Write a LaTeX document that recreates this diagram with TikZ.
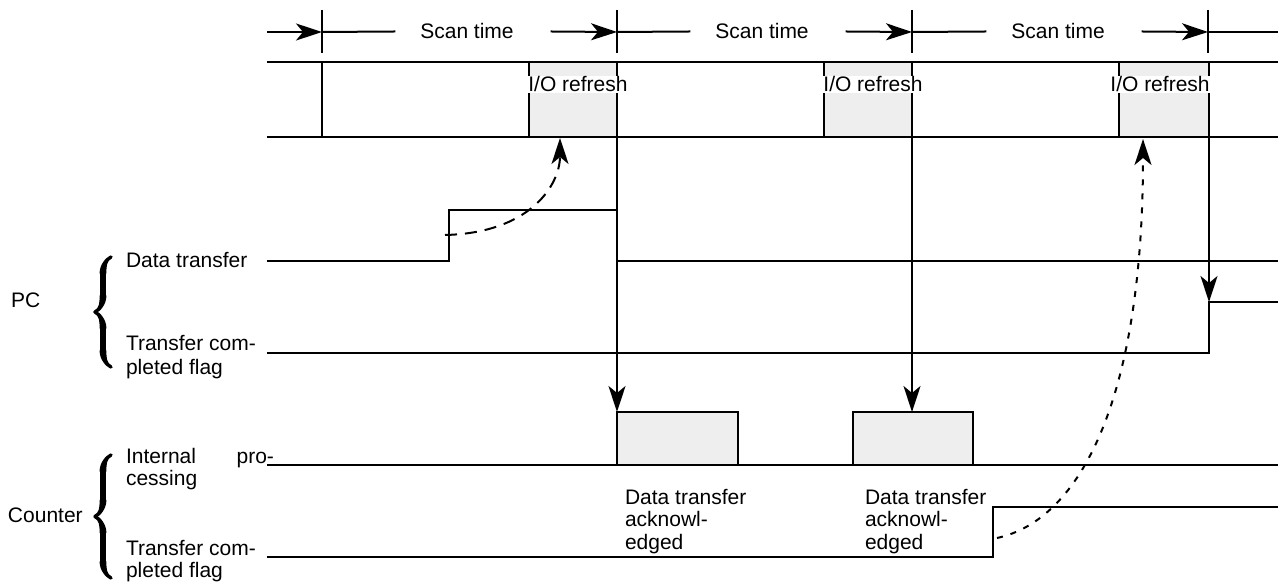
\documentclass[tikz,border=0pt]{standalone}
\usepackage{fontspec}
\setmainfont{Liberation Sans}
\usetikzlibrary{arrows.meta,decorations.pathreplacing,calligraphy}
\definecolor{refreshgray}{RGB}{238,238,238}

\begin{document}
\begin{tikzpicture}[x=0.5pt,y=-0.5pt,line width=1pt,
  sigarrow/.style={-{Stealth[length=13pt,width=8.5pt,inset=3.5pt]}},
  lbl/.style={font=\fontsize{10.5}{12}\selectfont,inner sep=0pt,align=left},
  acklbl/.style={font=\fontsize{10.5}{11.3}\selectfont,inner sep=0pt,align=left},
  iolbl/.style={lbl,fill=white,inner sep=0.5pt},
  grp/.style={decorate,decoration={calligraphic brace,amplitude=8pt},line width=3.4pt}]
\useasboundingbox (0,0) rectangle (1278,582);
\coordinate (t0) at (267,32);
\coordinate (t1) at (322,32);
\coordinate (t2) at (617,32);
\coordinate (t3) at (912,32);
\coordinate (t4) at (1208,32);
\coordinate (t5) at (1278,32);
\node[lbl,anchor=base] (scanA) at (467,39) {Scan time};
\node[lbl,anchor=base] (scanB) at (762,39) {Scan time};
\node[lbl,anchor=base] (scanC) at (1058,39) {Scan time};
\foreach \t in {t1,t2,t3,t4}
  \draw ([yshift=11pt]\t) -- ([yshift=-10.5pt]\t);
\draw[sigarrow] (t0) -- (t1);
\draw (t1) -- ([xshift=-12pt]scanA.west);
\draw[sigarrow] ([xshift=18pt]scanA.east) -- (t2);
\draw (t2) -- ([xshift=-12pt]scanB.west);
\draw[sigarrow] ([xshift=18pt]scanB.east) -- (t3);
\draw (t3) -- ([xshift=-12pt]scanC.west);
\draw[sigarrow] ([xshift=18pt]scanC.east) -- (t4);
\draw (t4) -- (t5);

\fill[refreshgray] (529,62) rectangle (617,137);
\fill[refreshgray] (824,62) rectangle (912,137);
\fill[refreshgray] (1119,62) rectangle (1209,137);
\draw (267,62) -- (1278,62);
\draw (267,137) -- (1278,137);
\draw (322,62) -- (322,137);
\draw (529,62) -- (529,137);
\draw (824,62) -- (824,137);
\draw (1119,62) -- (1119,137);

\draw (267,261) -- (449,261) -- (449,210) -- (617,210) -- (617,261);
\draw (617,261) -- (1278,261);
\draw (267,353) -- (1209,353) -- (1209,302) -- (1278,302);

\fill[refreshgray] (617,412) rectangle (738,465);
\fill[refreshgray] (853,412) rectangle (973,465);
\draw (617,412) rectangle (738,465);
\draw (853,412) rectangle (973,465);
\draw (267,465) -- (1278,465);
\draw (267,557) -- (993,557) -- (993,507) -- (1278,507);

\coordinate (topA) at (617,62);
\coordinate (topB) at (912,62);
\coordinate (topC) at (1209,62);
\coordinate (procA) at (617,412);
\coordinate (procB) at (912,412);
\coordinate (flagPC) at (1209,302);
\draw[sigarrow] (topA) -- (procA);
\draw[sigarrow] (topB) -- (procB);
\draw[sigarrow] (topC) -- (flagPC);

\coordinate (sendA) at (445,235);
\coordinate (refA) at (560,138);
\coordinate (sendB) at (997,538);
\coordinate (refC) at (1143,139);
\draw[sigarrow,dash pattern=on 6pt off 4pt] (sendA) .. controls (530,233) and (560,185) .. (refA);
\draw[sigarrow,dash pattern=on 3pt off 4pt] (sendB) .. controls (1080,520) and (1143,400) .. (refC);

\node[iolbl,anchor=base] (ioA) at (578,92) {I/O refresh};
\node[iolbl,anchor=base] (ioB) at (873,92) {I/O refresh};
\node[iolbl,anchor=base] (ioC) at (1160,92) {I/O refresh};

\node[lbl,anchor=base west] (pcGrp) at (10,307) {PC};
\node[lbl,anchor=base west] (cntGrp) at (7,522) {Counter};
\draw[grp] (111,367) -- (111,257);
\draw[grp] (111,578) -- (111,455);
\node[lbl,anchor=base west] (pcData) at (125,268) {Data transfer};
\node[lbl,anchor=north west] (pcFlag) at (125,334) {Transfer com-\\pleted flag};
\node[acklbl,anchor=north west] (cntProc) at (125,447) {\makebox[74pt][s]{Internal\hfill pro-}\\cessing};
\node[acklbl,anchor=north west] (cntFlag) at (125,539) {Transfer com-\\pleted flag};
\node[acklbl,anchor=north west] (ackA) at (624,488) {Data transfer\\acknowl-\\edged};
\node[acklbl,anchor=north west] (ackB) at (864,488) {Data transfer\\acknowl-\\edged};
\end{tikzpicture}
\end{document}
